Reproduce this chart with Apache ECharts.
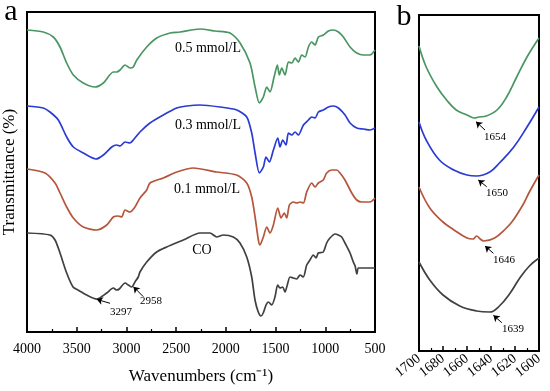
<!DOCTYPE html>
<html><head><meta charset="utf-8">
<script src="https://cdn.jsdelivr.net/npm/echarts@6/dist/echarts.min.js"></script>
<style>html,body{margin:0;padding:0;background:#fff}#c{width:550px;height:391px}</style>
</head><body><div id="c"></div>
<script>
// ---- Panel a data (wavenumber cm-1, relative transmittance) ----
const wnA_05 = [4000,3836,3735,3668,3601,3534,3434,3316,3232,3132,3098,3064,3014,2964,2931,2896,2796,2695,2561,2461,2260,2109,1958,1857,1757,1706,1663,1623,1589,1556,1515,1482,1462,1438,1405,1371,1337,1304,1271,1237,1203,1170,1136,1103,1069,1019,969,919,868,818,751,684,617,550,500];
const tA_05 = [302,300,295,285,269,257,249,245,249,260,260,262,267,264,265,272,285,294,299,300,303,301,299,289,269,245,229,235,245,240,255,267,257,264,257,270,269,274,270,277,275,285,290,287,295,297,301,302,300,295,285,279,277,277,282];

const wnA_03 = [4000,3836,3769,3685,3601,3534,3434,3306,3232,3148,3098,3064,3014,2964,2931,2864,2763,2629,2494,2393,2260,2059,1890,1790,1740,1706,1663,1623,1596,1563,1522,1478,1455,1428,1395,1371,1337,1304,1271,1220,1170,1136,1103,1069,1019,969,919,868,801,751,684,617,550,500];
const tA_03 = [226,224,220,212,195,185,179,173,177,185,187,186,190,189,192,200,209,217,224,226,227,225,222,215,199,179,159,165,175,170,182,194,185,192,187,199,197,200,197,207,212,215,214,220,222,225,226,224,217,209,204,203,202,204];

const wnA_01 = [4000,3819,3718,3668,3601,3534,3434,3299,3198,3132,3082,3048,3014,2964,2914,2864,2796,2763,2629,2494,2327,2092,1891,1790,1740,1706,1673,1657,1623,1589,1556,1522,1478,1445,1412,1388,1361,1321,1287,1254,1220,1187,1136,1103,1070,1020,986,935,885,852,802,734,684,634,550,500];
const tA_01 = [163,159,149,139,125,114,105,102,107,115,116,115,122,120,125,134,142,149,154,160,164,160,157,149,135,115,92,87,95,105,99,107,124,114,119,114,127,130,129,130,129,140,149,145,149,152,159,162,162,159,152,139,132,130,130,134];

const wnA_CO = [4000,3769,3718,3668,3601,3537,3487,3400,3299,3198,3132,3098,3072,3014,2981,2947,2914,2881,2864,2796,2696,2595,2428,2260,2160,2092,2026,1925,1858,1790,1740,1707,1674,1647,1624,1596,1573,1539,1506,1479,1456,1428,1405,1382,1355,1322,1288,1254,1221,1187,1154,1121,1093,1070,1020,986,953,902,869,835,802,751,718,700,682,668,618,571,500];
const tA_CO = [99,97,92,79,59,45,42,37,33,39,44,42,43,49,47,45,50,55,60,70,80,85,92,99,99,95,97,95,89,75,55,32,20,16,19,27,30,27,35,47,44,45,40,47,55,54,53,57,55,67,72,77,74,79,80,89,94,98,97,95,89,79,70,66,58,64,64,64,64];

// ---- Panel b data (1700-1600 cm-1 zoom) ----
const wnB_05 = [1700,1694,1685,1677,1669,1660,1654,1650,1644,1635,1627,1619,1610,1600];
const tB_05 = [305,284,264,251,241,236,233,234,235,241,254,273,294,313];
const wnB_03 = [1700,1694,1683,1671,1660,1652,1641,1633,1621,1610,1600];
const tB_03 = [229,211,191,181,176,175,179,188,204,224,244];
const wnB_01 = [1700,1691,1680,1672,1660,1655,1652,1649,1646,1637,1628,1622,1613,1608,1600];
const tB_01 = [164,143,129,122,113,112,115,112,110,113,122,130,147,159,176];
const wnB_CO = [1700,1691,1680,1666,1652,1641,1633,1624,1616,1608,1600];
const tB_CO = [89,71,56,45,40,39,45,58,73,85,93];

// tick labels
const ticksA = ['4000','3500','3000','2500','2000','1500','1000','500'];
const ticksB = ['1700','1680','1660','1640','1620','1600'];
const seriesNames = ['0.5 mmol/L','0.3 mmol/L','0.1 mmol/L','CO'];
const colors = ['#4a9662','#2a3bd3','#b5553b','#404040'];

const zip = (a,b) => a.map((x,i)=>[x,b[i]]);
const F = 'Liberation Serif, Times New Roman, serif';

function arrow(p0,p1){ return [{coord:p0},{coord:p1}]; }
const mlStyle = {silent:true, symbol:['none','arrow'], symbolSize:6, label:{show:false},
  lineStyle:{color:'#000', width:1, type:'solid'}, emphasis:{disabled:true}, animation:false};

const chart = echarts.init(document.getElementById('c'));
const seriesA = [[wnA_05,tA_05],[wnA_03,tA_03],[wnA_01,tA_01],[wnA_CO,tA_CO]].map((d,i)=>({
  type:'line', name:seriesNames[i], xAxisIndex:0, yAxisIndex:0, data:zip(d[0],d[1]),
  showSymbol:false, smooth:0.25, lineStyle:{color:colors[i], width:1.7}, itemStyle:{color:colors[i]}, animation:false
}));
const seriesB = [[wnB_05,tB_05],[wnB_03,tB_03],[wnB_01,tB_01],[wnB_CO,tB_CO]].map((d,i)=>({
  type:'line', name:seriesNames[i]+' b', xAxisIndex:1, yAxisIndex:1, data:zip(d[0],d[1]),
  showSymbol:false, smooth:0.4, lineStyle:{color:colors[i], width:1.7}, itemStyle:{color:colors[i]}, animation:false
}));
seriesA[3].markLine = Object.assign({data:[arrow([3165,28.7],[3299,32.7]), arrow([2830,35.3],[2930,45.3])]}, mlStyle);
seriesB[0].markLine = Object.assign({data:[arrow([1645,221],[1652.5,229.3])]}, mlStyle);
seriesB[1].markLine = Object.assign({data:[arrow([1643.6,164.3],[1650.6,171])]}, mlStyle);
seriesB[2].markLine = Object.assign({data:[arrow([1638,97.7],[1645,105])]}, mlStyle);
seriesB[3].markLine = Object.assign({data:[arrow([1631,28.3],[1638,35.7])]}, mlStyle);

const txt = (x,y,t,size,extra) => ({type:'text', x:x, y:y, silent:true,
  style:Object.assign({text:t, font:size+'px '+F, fill:'#000', align:'center', verticalAlign:'middle'}, extra||{})});

chart.setOption({
  animation:false,
  backgroundColor:'#fff',
  grid:[
    {left:27, right:175, top:12, bottom:59, show:true, borderColor:'#000', borderWidth:2, backgroundColor:'transparent', containLabel:false, outerBoundsMode:'none'},
    {left:419, right:11, top:15, bottom:40, show:true, borderColor:'#000', borderWidth:2, backgroundColor:'transparent', containLabel:false, outerBoundsMode:'none'}
  ],
  xAxis:[
    {type:'value', gridIndex:0, min:500, max:4000, interval:500, inverse:true,
     axisLine:{lineStyle:{color:'#000', width:2}},
     axisTick:{inside:true, length:5, lineStyle:{color:'#000', width:1.5}},
     minorTick:{show:true, splitNumber:2, length:3, lineStyle:{color:'#000', width:1.2}},
     splitLine:{show:false},
     axisLabel:{color:'#000', fontFamily:F, fontSize:14, margin:10, formatter:v=>ticksA[(4000-v)/500]},
     name:'Wavenumbers (cm\u207B\u00B9)', nameLocation:'middle', nameGap:36,
     nameTextStyle:{color:'#000', fontFamily:F, fontSize:17}},
    {type:'value', gridIndex:1, min:1600, max:1700, interval:20, inverse:true,
     axisLine:{lineStyle:{color:'#000', width:2}},
     axisTick:{inside:true, length:5, lineStyle:{color:'#000', width:1.5}},
     minorTick:{show:true, splitNumber:2, length:3, lineStyle:{color:'#000', width:1.2}},
     splitLine:{show:false},
     axisLabel:{color:'#000', fontFamily:F, fontSize:14, margin:6, rotate:38, formatter:v=>ticksB[(1700-v)/20]}}
  ],
  yAxis:[
    {type:'value', gridIndex:0, min:0, max:320, show:true, axisLabel:{show:false}, axisTick:{show:false},
     splitLine:{show:false}, axisLine:{lineStyle:{color:'#000', width:2}},
     name:'Transmittance (%)', nameLocation:'middle', nameGap:9,
     nameTextStyle:{color:'#000', fontFamily:F, fontSize:17}},
    {type:'value', gridIndex:1, min:0, max:336, axisLabel:{show:false}, axisTick:{show:false},
     splitLine:{show:false}, axisLine:{lineStyle:{color:'#000', width:2}}}
  ],
  series: seriesA.concat(seriesB),
  graphic:[
    txt(11,12,'a',30),
    txt(404,17,'b',30),
    txt(208,48,seriesNames[0],14),
    txt(208,125,seriesNames[1],14),
    txt(207,189,seriesNames[2],14),
    txt(202,250,seriesNames[3],14),
    txt(121,312,'3297',11),
    txt(151,301,'2958',11),
    txt(495,137,'1654',11),
    txt(497,193,'1650',11),
    txt(504,260,'1646',11),
    txt(513,329,'1639',11)
  ]
});
</script></body></html>
